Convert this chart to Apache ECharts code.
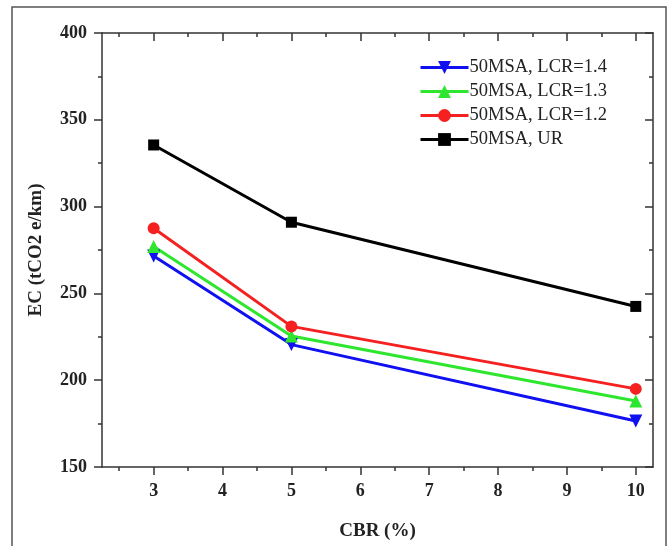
<!DOCTYPE html>
<html>
<head>
<meta charset="utf-8">
<script src="https://cdn.jsdelivr.net/npm/echarts@6/dist/echarts.min.js"></script>
<style>html,body{margin:0;padding:0;background:#fff;}#c{width:670px;height:546px;}</style>
</head>
<body>
<div id="c"></div>
<script>
var cbr = [3, 5, 10];
var lcr14 = [271.5, 220.5, 176.5];
var lcr13 = [277, 225.5, 188];
var lcr12 = [287.5, 231, 195];
var ur = [335.5, 291, 242.5];
var seriesNames = ['50MSA, LCR=1.4', '50MSA, LCR=1.3', '50MSA, LCR=1.2', '50MSA, UR'];
var xMajor = [3, 4, 5, 6, 7, 8, 9, 10];
var xMinor = [2.5, 3.5, 4.5, 5.5, 6.5, 7.5, 8.5, 9.5];

function pairs(xs, ys) { return xs.map(function (x, i) { return [x, ys[i]]; }); }

var font = 'Liberation Serif';
var chart = echarts.init(document.getElementById('c'));
var axisLineStyle = { color: '#333', width: 1.5 };
var opt = {
  animation: false,
  backgroundColor: '#fff',
  grid: { left: 102, right: 17, top: 33, bottom: 69 },
  graphic: [{
    type: 'rect', shape: { x: 12, y: 7, width: 654, height: 560 },
    style: { fill: 'none', stroke: '#555', lineWidth: 1.5 }, z: 0
  }],
  legend: {
    left: 414, top: 53, orient: 'vertical',
    itemWidth: 48, itemHeight: 16, itemGap: 5,
    lineStyle: { width: 3 },
    textStyle: { fontFamily: font, fontSize: 18.5, color: '#222', lineHeight: 19, padding: [0, 0, 0, -4] },
    data: seriesNames
  },
  xAxis: [{
    type: 'value', min: 2.25, max: 10.25, position: 'bottom',
    name: 'CBR (%)', nameLocation: 'middle', nameGap: 55,
    nameTextStyle: { fontFamily: font, fontSize: 19, fontWeight: 'bold', color: '#222' },
    axisLine: { show: true, lineStyle: axisLineStyle },
    axisTick: { show: true, inside: false, length: 8, customValues: xMajor, lineStyle: axisLineStyle },
    axisLabel: { customValues: xMajor, margin: 15, fontFamily: font, fontSize: 18, fontWeight: 'bold', color: '#222' },
    splitLine: { show: false }
  }, {
    type: 'value', min: 2.25, max: 10.25, position: 'bottom',
    axisLine: { show: false },
    axisTick: { show: true, inside: false, length: 4, customValues: xMinor, lineStyle: axisLineStyle },
    axisLabel: { show: false }, splitLine: { show: false }
  }, {
    type: 'value', min: 2.25, max: 10.25, position: 'top',
    axisLine: { show: true, lineStyle: axisLineStyle },
    axisTick: { show: true, inside: true, length: 8, customValues: xMajor, lineStyle: axisLineStyle },
    axisLabel: { show: false }, splitLine: { show: false }
  }, {
    type: 'value', min: 2.25, max: 10.25, position: 'top',
    axisLine: { show: false },
    axisTick: { show: true, inside: true, length: 4, customValues: xMinor, lineStyle: axisLineStyle },
    axisLabel: { show: false }, splitLine: { show: false }
  }],
  yAxis: [{
    type: 'value', min: 150, max: 400, interval: 50, position: 'left',
    name: 'EC (tCO2 e/km)', nameLocation: 'middle', nameGap: 56,
    nameTextStyle: { fontFamily: font, fontSize: 19, fontWeight: 'bold', color: '#222' },
    axisLine: { show: true, lineStyle: axisLineStyle },
    axisTick: { show: true, inside: false, length: 8, lineStyle: axisLineStyle },
    minorTick: { show: true, splitNumber: 2, length: 4, lineStyle: axisLineStyle },
    axisLabel: { margin: 15, fontFamily: font, fontSize: 18, fontWeight: 'bold', color: '#222' },
    splitLine: { show: false }
  }, {
    type: 'value', min: 150, max: 400, interval: 50, position: 'right',
    axisLine: { show: true, lineStyle: axisLineStyle },
    axisTick: { show: true, inside: true, length: 8, lineStyle: axisLineStyle },
    minorTick: { show: true, splitNumber: 2, length: 4, lineStyle: axisLineStyle },
    axisLabel: { show: false }, splitLine: { show: false }
  }],
  series: [{
    name: seriesNames[0], type: 'line', data: pairs(cbr, lcr14),
    color: '#1010f0', lineStyle: { width: 3 }, symbol: 'triangle', symbolRotate: 180, symbolSize: 13
  }, {
    name: seriesNames[1], type: 'line', data: pairs(cbr, lcr13),
    color: '#2de62d', lineStyle: { width: 3 }, symbol: 'triangle', symbolSize: 13
  }, {
    name: seriesNames[2], type: 'line', data: pairs(cbr, lcr12),
    color: '#f52020', lineStyle: { width: 3 }, symbol: 'circle', symbolSize: 12
  }, {
    name: seriesNames[3], type: 'line', data: pairs(cbr, ur),
    color: '#000', lineStyle: { width: 3 }, symbol: 'rect', symbolSize: 11
  }].map(function (s) { s.itemStyle = { opacity: 1 }; return s; })
};
chart.setOption(opt);
</script>
</body>
</html>
